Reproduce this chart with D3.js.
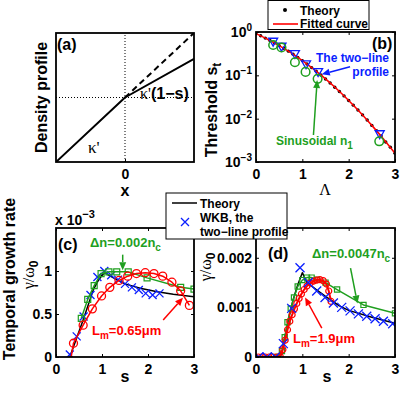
<!DOCTYPE html>
<html>
<head>
<meta charset="utf-8">
<script src="https://cdn.jsdelivr.net/npm/d3@7"></script>
<style>
  body { margin: 0; background: #fff; }
  text { font-family: "Liberation Sans", Arial, sans-serif; font-weight: bold; }
  .serif { font-family: "Liberation Serif", "Times New Roman", serif; font-weight: normal; }
</style>
</head>
<body>
<div id="container"></div>
<script>
// (a) two-line density profile (arbitrary units)
let profileX = [-1, 0, 1];
let profileY = [-1, 0, 0.6];
let straightX = [0, 1];
let straightY = [0, 1];

// (b) threshold s_t against Lambda
let lambdaTheory = [0, 0.1, 0.2, 0.3, 0.4, 0.5, 0.6, 0.7, 0.8, 0.9, 1.0, 1.1, 1.2, 1.3, 1.4, 1.5,
                    1.6, 1.7, 1.8, 1.9, 2.0, 2.1, 2.2, 2.3, 2.4, 2.5, 2.6, 2.7, 2.8, 2.9, 3.0];
let stTheory = [0.912, 0.817, 0.724, 0.638, 0.560, 0.486, 0.421, 0.361, 0.308, 0.260, 0.219, 0.182,
                0.151, 0.124, 0.102, 0.0826, 0.0667, 0.0533, 0.0425, 0.0335, 0.0263, 0.0205, 0.0158,
                0.0122, 0.0093, 0.0070, 0.0053, 0.0040, 0.0029, 0.0022, 0.0016];
let lambdaFit = [0, 0.25, 0.5, 0.75, 1, 1.25, 1.5, 1.75, 2, 2.25, 2.5, 2.75, 3];
let stFit = [0.912, 0.681, 0.486, 0.334, 0.219, 0.137, 0.0826, 0.0477, 0.0263, 0.0139, 0.0070, 0.00341, 0.0016];
let lambdaTwoLine = [0.37, 0.55, 0.84, 1.08, 1.34, 2.67];
let stTwoLine = [0.60, 0.46, 0.31, 0.18, 0.12, 0.0044];
let lambdaSin = [0.37, 0.55, 0.84, 1.07, 1.33, 2.66];
let stSin = [0.50, 0.44, 0.20, 0.12, 0.083, 0.0030];

// (c) growth rate, units of 1e-3
let sTheoryC = [0.3, 0.59, 0.81, 0.92, 1.0, 1.07, 1.15, 1.32, 1.5, 1.83, 2.2, 2.55, 3.0];
let gTheoryC = [0, 0.43, 0.78, 0.89, 0.95, 0.98, 0.95, 0.90, 0.85, 0.80, 0.76, 0.73, 0.70];
let sWkbC = [0.30, 0.45, 0.60, 0.75, 0.90, 1.05, 1.20, 1.35, 1.50, 1.65, 1.80, 1.95, 2.10, 2.25];
let gWkbC = [0.03, 0.24, 0.47, 0.72, 0.93, 1.00, 0.95, 0.90, 0.85, 0.81, 0.78, 0.74, 0.72, 0.74];
let sDnC = [0.55, 0.69, 0.83, 0.98, 1.15, 1.32, 1.57, 1.98, 2.71, 3.0];
let gDnC = [0.45, 0.67, 0.83, 0.97, 0.99, 0.99, 0.99, 0.92, 0.81, 0.79];
let sLmC = [0.33, 0.38, 0.59, 0.79, 0.99, 1.17, 1.37, 1.56, 1.75, 1.94, 2.13, 2.32, 2.52, 2.71, 2.9];
let gLmC = [0, 0.16, 0.37, 0.56, 0.71, 0.81, 0.89, 0.94, 0.97, 0.98, 0.97, 0.94, 0.87, 0.77, 0.60];

// (d) growth rate, units of 1e-3
let sTheoryD = [0, 0.5, 0.55, 0.6, 0.7, 0.8, 0.9, 1.0, 1.1, 1.3, 1.5, 1.8, 2.0, 2.5, 3.0];
let gTheoryD = [0, 0, 0.05, 0.3, 0.75, 1.15, 1.45, 1.70, 1.50, 1.36, 1.22, 1.03, 0.94, 0.80, 0.68];
let sWkbD = [0.06, 0.24, 0.42, 0.59, 0.77, 0.95, 1.13, 1.31, 1.49, 1.67, 1.85, 2.03, 2.21, 2.39, 2.57, 2.75, 2.95];
let gWkbD = [0, 0, 0, 0.27, 0.98, 1.80, 1.50, 1.33, 1.20, 1.09, 1.00, 0.93, 0.87, 0.82, 0.77, 0.72, 0.67];
let sDnD = [0.45, 0.56, 0.62, 0.68, 0.75, 0.82, 0.9, 1.0, 1.1, 1.2, 1.32, 1.5, 1.75, 2.32, 3.0];
let gDnD = [0, 0.12, 0.4, 0.7, 0.98, 1.2, 1.42, 1.55, 1.6, 1.6, 1.56, 1.5, 1.36, 1.05, 0.88];
let sLmD = [0.05, 0.12, 0.2, 0.28, 0.36, 0.44, 0.52, 0.58, 0.63, 0.68, 0.73, 0.78, 0.83, 0.88, 0.93,
            0.98, 1.04, 1.1, 1.17, 1.24, 1.31, 1.38, 1.45, 1.52, 1.57, 1.62];
let gLmD = [0, 0, 0, 0, 0, 0, 0.02, 0.15, 0.34, 0.55, 0.72, 0.85, 0.97, 1.08, 1.18,
            1.27, 1.36, 1.43, 1.49, 1.53, 1.55, 1.56, 1.54, 1.47, 1.33, 1.12];

let sTicks = [0, 1, 2, 3];

let blue = "#0a1eff";
let green = "#1f9f1f";
let red = "#ff0000";

let svg = d3.select("#container")
  .append("svg")
    .attr("width", 415)
    .attr("height", 395)
    .style("background-color", "white")
;
let defs = svg.append("defs");

let boxA = {l: 56, r: 194, t: 33, b: 162};
let boxB = {l: 256, r: 395, t: 32, b: 162};
let boxC = {l: 56, r: 194, t: 228, b: 357};
let boxD = {l: 256, r: 395, t: 228, b: 357};

function plotArea(id, box) {
  defs.append("clipPath").attr("id", id).append("rect")
    .attr("x", box.l).attr("y", box.t)
    .attr("width", box.r - box.l).attr("height", box.b - box.t);
  return svg.append("g").attr("clip-path", "url(#" + id + ")");
}

function styleAxis(a) {
  a.select(".domain").remove();
  a.selectAll(".tick line").attr("stroke", "#000").attr("stroke-width", 1);
  a.selectAll(".tick text").attr("font-size", 14).attr("fill", "#000");
}

function frame(box, x, y, xt, yt, yfmt, mirror) {
  svg.append("g").attr("transform", "translate(0," + box.b + ")")
    .call(d3.axisBottom(x).tickValues(xt).tickSize(-3).tickPadding(7).tickFormat(d3.format("~g")))
    .call(styleAxis);
  svg.append("g").attr("transform", "translate(" + box.l + ",0)")
    .call(d3.axisLeft(y).tickValues(yt).tickSize(-3).tickPadding(4).tickFormat(yfmt))
    .call(styleAxis);
  if (mirror) {
    svg.append("g").attr("transform", "translate(0," + box.t + ")")
      .call(d3.axisTop(x).tickValues(xt).tickSize(-3).tickFormat(""))
      .call(styleAxis);
    svg.append("g").attr("transform", "translate(" + box.r + ",0)")
      .call(d3.axisRight(y).tickValues(yt).tickSize(-3).tickFormat(""))
      .call(styleAxis);
  }
  svg.append("rect")
    .attr("x", box.l).attr("y", box.t)
    .attr("width", box.r - box.l).attr("height", box.b - box.t)
    .attr("fill", "none").attr("stroke", "#000").attr("stroke-width", 1.8);
}

function drawLine(g, x, y, xs, ys, color, width, dash, curve) {
  let line = d3.line().x(d => x(d[0])).y(d => y(d[1])).curve(curve || d3.curveLinear);
  g.append("path")
    .attr("d", line(d3.zip(xs, ys)))
    .attr("fill", "none")
    .attr("stroke", color)
    .attr("stroke-width", width)
    .attr("stroke-dasharray", dash || null)
    .attr("stroke-linejoin", "round");
}

function drawMarkers(g, x, y, xs, ys, shape, size, color, sw, skip) {
  let pts = d3.zip(xs, ys).slice(skip || 0);
  let paths = {
    circle: r => d3.symbol().type(d3.symbolCircle).size(Math.PI * r * r)(),
    square: r => "M" + (-r) + "," + (-r) + "h" + 2 * r + "v" + 2 * r + "h" + (-2 * r) + "Z",
    cross: r => "M" + (-r) + "," + (-r) + "L" + r + "," + r + "M" + (-r) + "," + r + "L" + r + "," + (-r),
    tri: r => "M" + (-r) + "," + (-r * 0.75) + "L" + r + "," + (-r * 0.75) + "L0," + r + "Z"
  };
  g.selectAll(null).data(pts).enter()
    .append("path")
      .attr("d", paths[shape](size))
      .attr("transform", d => "translate(" + x(d[0]) + "," + y(d[1]) + ")")
      .attr("fill", "none")
      .attr("stroke", color)
      .attr("stroke-width", sw);
}

function arrow(x1, y1, x2, y2, color) {
  let ang = Math.atan2(y2 - y1, x2 - x1);
  let L = 8, w = 3.5;
  let bx = x2 - L * Math.cos(ang), by = y2 - L * Math.sin(ang);
  svg.append("line")
    .attr("x1", x1).attr("y1", y1).attr("x2", bx).attr("y2", by)
    .attr("stroke", color).attr("stroke-width", 1.5);
  svg.append("polygon")
    .attr("points", [[x2, y2],
      [bx - w * Math.sin(ang), by + w * Math.cos(ang)],
      [bx + w * Math.sin(ang), by - w * Math.cos(ang)]].map(p => p.join(",")).join(" "))
    .attr("fill", color);
}

function label(x, y, parts, size, color, anchor, rotate) {
  let t = svg.append("text")
    .attr("transform", "translate(" + x + "," + y + ")" + (rotate ? " rotate(-90)" : ""))
    .attr("text-anchor", anchor || "start")
    .attr("font-size", size)
    .attr("fill", color || "#000");
  parts.forEach(p => {
    let s = t.append("tspan").text(p.t);
    if (p.dy) s.attr("dy", p.dy);
    if (p.size) s.attr("font-size", p.size);
    if (p.serif) s.attr("class", "serif");
  });
  return t;
}

// ---------- panel (a)
let xA = d3.scaleLinear().domain([-1, 1]).range([boxA.l, boxA.r]);
let yA = d3.scaleLinear().domain([-1, 1]).range([boxA.b, boxA.t]);
let gA = plotArea("clipA", boxA);
drawLine(gA, xA, yA, [0, 0], [-1, 1], "#000", 1, "1,2");
drawLine(gA, xA, yA, [-1, 1], [0, 0], "#000", 1, "1,2");
drawLine(gA, xA, yA, straightX, straightY, "#000", 2, "6,4");
drawLine(gA, xA, yA, profileX, profileY, "#000", 2);
frame(boxA, xA, yA, [0], [], "", false);
label(57, 50, [{t: "(a)"}], 16);
label(88, 153, [{t: "κ'", serif: true}], 17);
label(140, 99, [{t: "κ'", serif: true}, {t: "(1−s)"}], 16);
label(125, 196, [{t: "x"}], 16, "#000", "middle");
label(47, 97.5, [{t: "Density profile"}], 16, "#000", "middle", true);

// ---------- panel (b)
let xB = d3.scaleLinear().domain([0, 3]).range([boxB.l, boxB.r]);
let yB = d3.scaleLog().domain([1e-3, 1]).range([boxB.b, boxB.t]);
let gB = plotArea("clipB", boxB);
gB.selectAll(null).data(d3.zip(lambdaTheory, stTheory)).enter()
  .append("circle")
    .attr("cx", d => xB(d[0]))
    .attr("cy", d => yB(d[1]))
    .attr("r", 1.7)
    .attr("fill", "#000");
drawLine(gB, xB, yB, lambdaFit, stFit, red, 1.6, null, d3.curveMonotoneX);
drawMarkers(gB, xB, yB, lambdaTwoLine, stTwoLine, "tri", 4.5, blue, 1.3);
drawMarkers(gB, xB, yB, lambdaSin, stSin, "circle", 4.3, green, 1.5);
frame(boxB, xB, yB, sTicks, [1e-3, 1e-2, 1e-1, 1], "", true);
svg.selectAll("g").filter(function() { return this.getAttribute("transform") === "translate(" + boxB.l + ",0)"; })
  .selectAll(".tick text")
  .each(function(d) {
    let t = d3.select(this);
    t.text("");
    t.append("tspan").text("10");
    t.append("tspan").attr("dy", -6).attr("font-size", 10)
      .text(String(Math.round(Math.log10(d))).replace("-", "−"));
  });
label(372, 49, [{t: "(b)"}], 16);
label(389, 61.5, [{t: "The two−line"}], 12, blue, "end");
label(389, 76, [{t: "profile"}], 12, blue, "end");
arrow(xB(2.03), yB(0.158), xB(1.42), yB(0.106), blue);
label(276, 145, [{t: "Sinusoidal n"}, {t: "1", dy: 4, size: 10}], 12, green);
arrow(xB(1.24), yB(0.0042), xB(1.32), yB(0.078), green);
label(216.5, 110, [{t: "Threshold s"}, {t: "t", dy: 4, size: 12}], 16, "#000", "middle", true);
label(325, 195, [{t: "Λ", serif: true}], 16, "#000", "middle");

// legend (b)
svg.append("rect").attr("x", 268).attr("y", 0.5).attr("width", 101).attr("height", 29)
  .attr("fill", "white").attr("stroke", "#000").attr("stroke-width", 1);
svg.append("circle").attr("cx", 285).attr("cy", 10).attr("r", 2).attr("fill", "#000");
svg.append("line").attr("x1", 273).attr("x2", 298).attr("y1", 24).attr("y2", 24)
  .attr("stroke", red).attr("stroke-width", 1.6);
label(300, 14.5, [{t: "Theory"}], 12);
label(300, 28.3, [{t: "Fitted curve"}], 12);

// ---------- panel (c)
let xC = d3.scaleLinear().domain([0, 3]).range([boxC.l, boxC.r]);
let yC = d3.scaleLinear().domain([0, 1.5]).range([boxC.b, boxC.t]);
let gC = plotArea("clipC", boxC);
drawLine(gC, xC, yC, sTheoryC, gTheoryC, "#000", 1.5);
drawMarkers(gC, xC, yC, sWkbC, gWkbC, "cross", 4, blue, 1.3);
drawLine(gC, xC, yC, sDnC, gDnC, green, 1.5);
drawMarkers(gC, xC, yC, sDnC, gDnC, "square", 3, green, 1.2);
drawLine(gC, xC, yC, sLmC, gLmC, red, 1.5);
drawMarkers(gC, xC, yC, sLmC, gLmC, "circle", 4, red, 1.3, 1);
frame(boxC, xC, yC, sTicks, [0, 0.5, 1], d3.format("~g"), true);
label(58, 250, [{t: "(c)"}], 16);
label(90, 247, [{t: "Δn=0.002n"}, {t: "c", dy: 4, size: 10}], 13, green);
arrow(xC(1.45), yC(1.19), xC(1.45), yC(1.01), green);
label(92, 335, [{t: "L"}, {t: "m", dy: 4, size: 10}, {t: "=0.65μm", dy: -4}], 13, red);
arrow(xC(2.33), yC(0.43), xC(2.76), yC(0.69), red);
label(55, 225, [{t: "x 10"}, {t: "−3", dy: -7, size: 11}], 14);
label(15, 279, [{t: "Temporal growth rate"}], 16, "#000", "middle", true);
label(34, 275, [{t: "γ/ω", serif: true}, {t: "0", dy: 4, size: 12}], 16, "#000", "middle", true);
label(125, 382, [{t: "s"}], 16, "#000", "middle");

// ---------- panel (d)
let xD = d3.scaleLinear().domain([0, 3]).range([boxD.l, boxD.r]);
let yD = d3.scaleLinear().domain([0, 2.6]).range([boxD.b, boxD.t]);
let gD = plotArea("clipD", boxD);
drawLine(gD, xD, yD, sTheoryD, gTheoryD, "#000", 1.5);
drawLine(gD, xD, yD, sDnD, gDnD, green, 1.5);
drawMarkers(gD, xD, yD, sDnD, gDnD, "square", 2.6, green, 1.2);
drawLine(gD, xD, yD, sLmD, gLmD, red, 2);
drawMarkers(gD, xD, yD, sLmD, gLmD, "circle", 3, red, 1.2);
drawMarkers(gD, xD, yD, sWkbD, gWkbD, "cross", 4.5, blue, 1.3);
frame(boxD, xD, yD, sTicks, [0, 1, 2], d => d === 0 ? "0" : (d / 1000).toFixed(3), true);
label(268, 258.5, [{t: "(d)"}], 16);
label(312, 257.5, [{t: "Δn=0.0047n"}, {t: "c", dy: 4, size: 10}], 13, green);
arrow(xD(2.04), yD(1.79), xD(2.19), yD(1.08), green);
label(293, 343, [{t: "L"}, {t: "m", dy: 4, size: 10}, {t: "=1.9μm", dy: -4}], 13, red);
arrow(xD(1.42), yD(0.58), xD(1.06), yD(1.20), red);
label(211, 267, [{t: "γ/ω", serif: true}, {t: "0", dy: 4, size: 12}], 16, "#000", "middle", true);
label(327, 382, [{t: "s"}], 16, "#000", "middle");

// legend (c)/(d)
svg.append("rect").attr("x", 166).attr("y", 193).attr("width", 121).attr("height", 46)
  .attr("fill", "white").attr("stroke", "#000").attr("stroke-width", 1);
svg.append("line").attr("x1", 172).attr("x2", 197).attr("y1", 203).attr("y2", 203)
  .attr("stroke", "#000").attr("stroke-width", 1.5);
svg.append("path").attr("d", "M-4,-4L4,4M-4,4L4,-4").attr("transform", "translate(185,222)")
  .attr("stroke", blue).attr("stroke-width", 1.3).attr("fill", "none");
label(200, 207.5, [{t: "Theory"}], 12);
label(200, 221.5, [{t: "WKB, the"}], 12);
label(200, 235.5, [{t: "two−line profile"}], 12);
</script>
</body>
</html>
